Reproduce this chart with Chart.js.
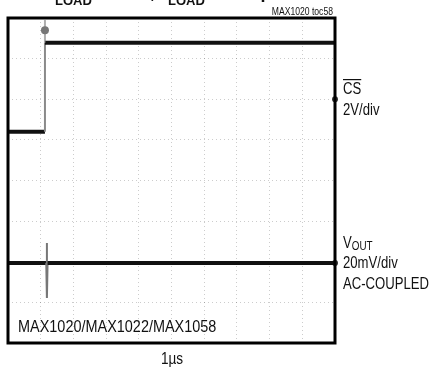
<!DOCTYPE html>
<html><head><meta charset="utf-8">
<script src="https://cdn.jsdelivr.net/npm/chart.js@4/dist/chart.umd.min.js"></script>
<style>html,body{margin:0;padding:0;background:#fff;}canvas{display:block}</style>
</head><body>
<canvas id="c" width="434" height="372"></canvas>
<script>
// Time axis in divisions (1 µs/div), level axis in divisions
const csTime   = [0.0, 1.13, 1.13, 10.0];
const csLevel  = [5.20, 5.20, 7.39, 7.39];
const csGlowTime  = [1.13, 1.13];
const csGlowLevel = [7.39, 7.95];
const csBlobTime  = [1.13];
const csBlobLevel = [7.70];
const voutTime  = [0.0, 1.17, 1.19, 1.19, 1.21, 10.0];
const voutLevel = [1.97, 1.97, 2.46, 1.11, 1.97, 1.97];
const markerTime  = [10, 10];
const markerLevel = [6.0, 1.97];

const labelFont = '"Liberation Sans", Arial, sans-serif';
const pts = (xs, ys) => xs.map((x, i) => ({x, y: ys[i]}));
const steep = ctx => {
  const a = ctx.p0.parsed, b = ctx.p1.parsed;
  return Math.abs(b.x - a.x) < 1e-9 || Math.abs((b.y - a.y) / (b.x - a.x)) > 5;
};
// draw condensed text (horizontal squeeze), returns drawn width
function ntext(c, txt, x, y, size, sx, align) {
  c.save();
  c.font = size + 'px ' + labelFont;
  const w = c.measureText(txt).width * sx;
  let x0 = x;
  if (align === 'right') x0 = x - w;
  else if (align === 'center') x0 = x - w / 2;
  c.translate(x0, y);
  c.scale(sx, 1);
  c.textAlign = 'left';
  c.fillText(txt, 0, 0);
  c.restore();
  return w;
}

const annotate = {
  id: 'annotate',
  afterDraw(chart) {
    const c = chart.ctx, a = chart.chartArea;
    c.save();
    c.strokeStyle = '#000'; c.lineWidth = 3;
    c.strokeRect(a.left, a.top, a.right - a.left, a.bottom - a.top);
    c.fillStyle = '#111';
    c.textBaseline = 'alphabetic';
    // clipped title at top
    c.font = 'bold 18px "Liberation Sans", Arial, sans-serif';
    c.fillText('R', 41, -2);
    c.fillText('= 1kΩ, C', 100, -2);
    c.fillText('= 100pF', 215, -2);
    c.font = 'bold 13px "Liberation Sans", Arial, sans-serif';
    c.fillText('LOAD', 55, 5);
    c.fillText('LOAD', 168, 5);
    // toc tag
    ntext(c, 'MAX1020 toc58', 333, 15, 10.5, 0.82, 'right');
    // right labels
    const w = ntext(c, 'CS', 343, 94, 16, 0.82);
    c.fillRect(343, 79, w, 1.2);
    ntext(c, '2V/div', 343, 115, 16, 0.82);
    const vw = ntext(c, 'V', 343, 248, 16, 0.82);
    ntext(c, 'OUT', 343 + vw, 250, 12, 0.82);
    ntext(c, '20mV/div', 343, 268, 16, 0.82);
    ntext(c, 'AC-COUPLED', 343, 289, 16, 0.82);
    // part number
    ntext(c, 'MAX1020/MAX1022/MAX1058', 18, 332, 17, 0.85);
    // time scale
    ntext(c, '1µs', 172, 364, 16, 0.85, 'center');
    c.restore();
  }
};

new Chart(document.getElementById('c'), {
  type: 'line',
  data: {
    datasets: [
      { data: pts(csGlowTime, csGlowLevel), borderColor: 'rgba(120,120,120,0.6)', borderWidth: 2, pointRadius: 0 },
      { data: pts(csBlobTime, csBlobLevel), showLine: false, pointRadius: 4, pointBackgroundColor: '#777', pointBorderWidth: 0 },
      { data: pts(csTime, csLevel), borderColor: '#111', borderWidth: 4, pointRadius: 0,
        segment: { borderColor: c => steep(c) ? '#8a8a8a' : undefined, borderWidth: c => steep(c) ? 2 : undefined } },
      { data: pts(voutTime, voutLevel), borderColor: '#111', borderWidth: 4, pointRadius: 0,
        segment: { borderColor: c => steep(c) ? '#777' : undefined, borderWidth: c => steep(c) ? 2 : undefined } },
      { data: pts(markerTime, markerLevel), showLine: false, pointRadius: 3, pointBackgroundColor: '#333', pointBorderWidth: 0, clip: false }
    ]
  },
  options: {
    responsive: false, animation: false,
    layout: { padding: { left: 8, top: 18, right: 99, bottom: 29 } },
    plugins: { legend: { display: false }, tooltip: { enabled: false } },
    scales: {
      x: { type: 'linear', min: 0, max: 10,
           ticks: { display: false, stepSize: 1 },
           grid: { color: 'rgba(0,0,0,0.2)', drawTicks: false },
           border: { display: false, dash: [1, 3] } },
      y: { type: 'linear', min: 0, max: 8,
           ticks: { display: false, stepSize: 1 },
           grid: { color: 'rgba(0,0,0,0.2)', drawTicks: false },
           border: { display: false, dash: [1, 3] } }
    }
  },
  plugins: [annotate]
});
</script>
</body></html>
